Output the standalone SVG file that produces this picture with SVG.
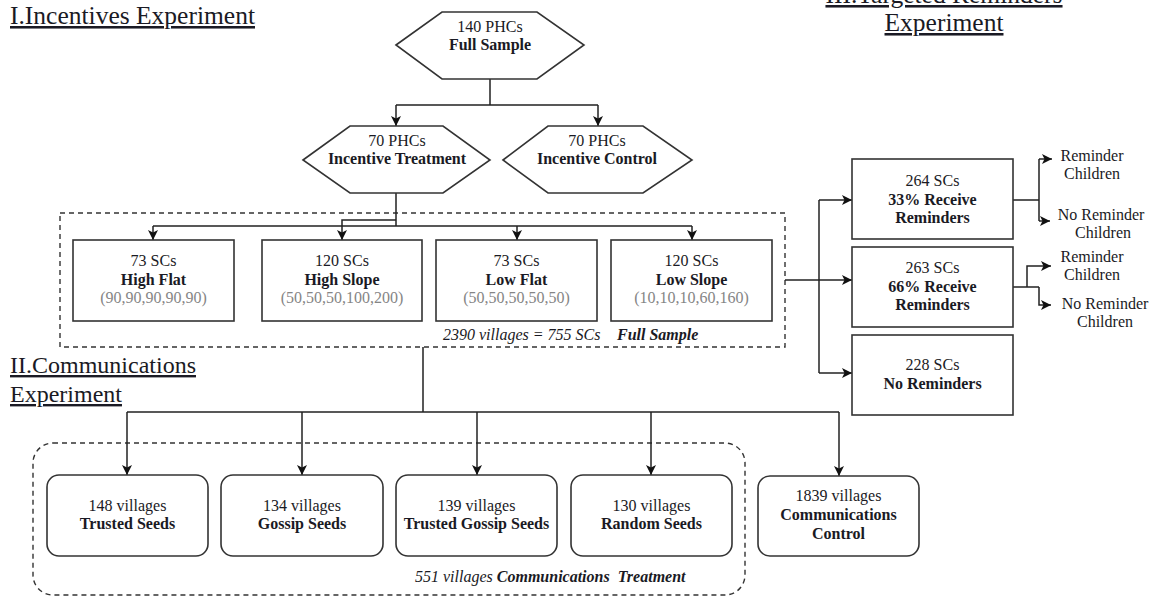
<svg xmlns="http://www.w3.org/2000/svg" width="1157" height="597" viewBox="0 0 1157 597">
<defs>
<marker id="arr" markerWidth="10" markerHeight="10" refX="10" refY="5" orient="auto" markerUnits="userSpaceOnUse">
<path d="M0,0 L10,5 L0,10 L2.5,5 z" fill="#111"/>
</marker>
<style>
text{font-family:"Liberation Serif","Times New Roman",serif;fill:#1a1a24;font-size:16px}
.title{font-size:25.5px;text-decoration:underline}
.t2{font-size:24px;text-decoration:underline}
.c{text-anchor:middle}
.b{font-weight:bold}
.g{fill:#858585}
.i{font-style:italic}
.node{fill:#fff;stroke:#333;stroke-width:1.6}
.dash{fill:none;stroke:#333;stroke-width:1.4;stroke-dasharray:5,4}
.con path{fill:none;stroke:#222;stroke-width:1.5}
.ar{marker-end:url(#arr)}
</style>
</defs>
<rect width="1157" height="597" fill="#fff"/>

<g id="titles">
<text class="title" x="10" y="24">I.Incentives Experiment</text>
<text class="title c" x="944" y="3">III.Targeted Reminders</text>
<text class="title c" x="944" y="31">Experiment</text>
<text class="t2" x="10" y="373">II.Communications</text>
<text class="t2" x="10" y="402">Experiment</text>
</g>

<g id="groups">
<rect class="dash" x="60" y="213" width="725" height="134"/>
<text class="i" x="443" y="340">2390 villages = 755 SCs</text>
<text class="i b" x="617" y="340">Full Sample</text>
<rect class="dash" x="33" y="443" width="712" height="152" rx="20"/>
<text class="i" x="415" y="582" style="white-space:pre">551 villages <tspan class="b">Communications  Treatment</tspan></text>
</g>

<g class="con" id="connectors">
<path d="M490,79 V105 M396,105 H598"/>
<path class="ar" d="M396,105 V126"/>
<path class="ar" d="M598,105 V126"/>
<path d="M396,193 V226 M153,226 H692"/>
<path class="ar" d="M153,226 V240"/>
<path class="ar" d="M396,220 H342 V240"/>
<path class="ar" d="M517,226 V240"/>
<path class="ar" d="M692,226 V240"/>
<path d="M423,347 V412 M127,412 H839"/>
<path class="ar" d="M127,412 V475"/>
<path class="ar" d="M302,412 V475"/>
<path class="ar" d="M477,412 V475"/>
<path class="ar" d="M651,412 V475"/>
<path class="ar" d="M839,412 V476"/>
<path class="ar" d="M785,280 H852"/>
<path d="M819,200 V373"/>
<path class="ar" d="M819,200 H852"/>
<path class="ar" d="M819,373 H852"/>
<path d="M1013,200 H1039 M1039,159 V221"/>
<path class="ar" d="M1039,159 H1052"/>
<path class="ar" d="M1039,221 H1050"/>
<path d="M1013,287 H1039"/>
<path class="ar" d="M1027,287 V266 H1051"/>
<path class="ar" d="M1039,287 V305 H1051"/>
</g>

<g id="full-sample">
<polygon class="node" points="396,45 442,12 537,12 584,45 537,79 442,79"/>
<text class="c" x="490" y="32">140 PHCs</text>
<text class="c b" x="490" y="50">Full Sample</text>
</g>
<g id="incentive-treatment">
<polygon class="node" points="303,160 350,126 443,126 490,160 443,193 350,193"/>
<text class="c" x="397" y="146">70 PHCs</text>
<text class="c b" x="397" y="164">Incentive Treatment</text>
</g>
<g id="incentive-control">
<polygon class="node" points="503,160 548,126 643,126 692,160 643,193 548,193"/>
<text class="c" x="597" y="146">70 PHCs</text>
<text class="c b" x="597" y="164">Incentive Control</text>
</g>

<g id="high-flat">
<rect class="node" x="73" y="240" width="161" height="81"/>
<text class="c" x="153.5" y="266">73 SCs</text>
<text class="c b" x="153.5" y="285">High Flat</text>
<text class="c g" x="153.5" y="303">(90,90,90,90,90)</text>
</g>
<g id="high-slope">
<rect class="node" x="262" y="240" width="160" height="81"/>
<text class="c" x="342" y="266">120 SCs</text>
<text class="c b" x="342" y="285">High Slope</text>
<text class="c g" x="342" y="303">(50,50,50,100,200)</text>
</g>
<g id="low-flat">
<rect class="node" x="436" y="240" width="161" height="81"/>
<text class="c" x="516.5" y="266">73 SCs</text>
<text class="c b" x="516.5" y="285">Low Flat</text>
<text class="c g" x="516.5" y="303">(50,50,50,50,50)</text>
</g>
<g id="low-slope">
<rect class="node" x="611" y="240" width="161" height="81"/>
<text class="c" x="691.5" y="266">120 SCs</text>
<text class="c b" x="691.5" y="285">Low Slope</text>
<text class="c g" x="691.5" y="303">(10,10,10,60,160)</text>
</g>

<g id="rem33">
<rect class="node" x="852" y="159" width="161" height="80"/>
<text class="c" x="932.5" y="186">264 SCs</text>
<text class="c b" x="932.5" y="205">33% Receive</text>
<text class="c b" x="932.5" y="223">Reminders</text>
</g>
<g id="rem66">
<rect class="node" x="852" y="247" width="161" height="80"/>
<text class="c" x="932.5" y="273">263 SCs</text>
<text class="c b" x="932.5" y="292">66% Receive</text>
<text class="c b" x="932.5" y="310">Reminders</text>
</g>
<g id="rem-none">
<rect class="node" x="852" y="335" width="161" height="80"/>
<text class="c" x="932.5" y="370">228 SCs</text>
<text class="c b" x="932.5" y="389">No Reminders</text>
</g>

<g id="rem33-children">
<text class="c" x="1092" y="161">Reminder</text>
<text class="c" x="1092" y="179">Children</text>
<text class="c" x="1101" y="220">No Reminder</text>
<text class="c" x="1103" y="238">Children</text>
</g>
<g id="rem66-children">
<text class="c" x="1092" y="262">Reminder</text>
<text class="c" x="1092" y="280">Children</text>
<text class="c" x="1105" y="309">No Reminder</text>
<text class="c" x="1105" y="327">Children</text>
</g>

<g id="trusted">
<rect class="node" x="47" y="475" width="161" height="81" rx="12"/>
<text class="c" x="127.5" y="511">148 villages</text>
<text class="c b" x="127.5" y="529">Trusted Seeds</text>
</g>
<g id="gossip">
<rect class="node" x="221" y="475" width="162" height="81" rx="12"/>
<text class="c" x="302" y="511">134 villages</text>
<text class="c b" x="302" y="529">Gossip Seeds</text>
</g>
<g id="trusted-gossip">
<rect class="node" x="396" y="475" width="161" height="81" rx="12"/>
<text class="c" x="476.5" y="511">139 villages</text>
<text class="c b" x="476.5" y="529">Trusted Gossip Seeds</text>
</g>
<g id="random">
<rect class="node" x="571" y="475" width="161" height="81" rx="12"/>
<text class="c" x="651.5" y="511">130 villages</text>
<text class="c b" x="651.5" y="529">Random Seeds</text>
</g>
<g id="comm-control">
<rect class="node" x="758" y="476" width="161" height="80" rx="12"/>
<text class="c" x="838.5" y="501">1839 villages</text>
<text class="c b" x="838.5" y="520">Communications</text>
<text class="c b" x="838.5" y="539">Control</text>
</g>
</svg>
